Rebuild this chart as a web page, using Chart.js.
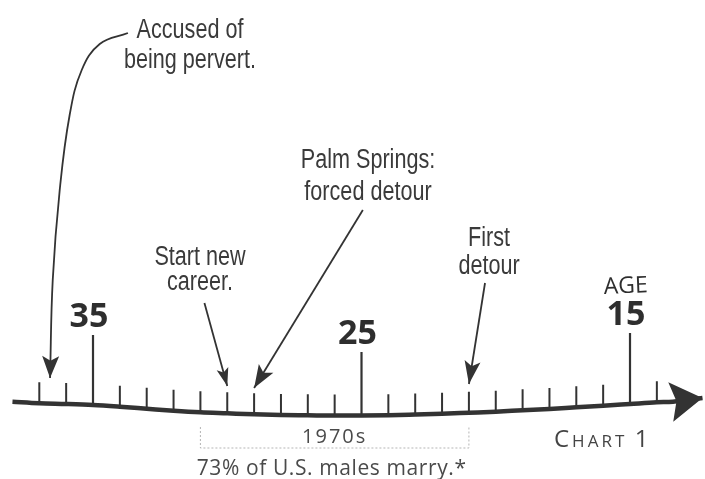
<!DOCTYPE html>
<html>
<head>
<meta charset="utf-8">
<script src="https://cdn.jsdelivr.net/npm/chart.js@4.4.1/dist/chart.umd.min.js"></script>
<style>
  html, body { margin: 0; padding: 0; background: #fff; }
  #caixa { width: 705px; height: 479px; }
</style>
</head>
<body>
<div id="caixa"><canvas id="graficoIdade"></canvas></div>
<script>
// linha do tempo (idade -> altura da linha)
const idadesLinha = [38, 37, 36, 35, 34, 33, 32, 31, 30, 29, 28, 27, 26, 25, 24, 23, 22, 21, 20, 19, 18, 17, 16, 15, 14, 13.4, 12.3];
const alturasLinha = [14.3, 12.7, 12, 11, 9.3, 7.3, 5.3, 3.7, 2.7, 1.7, 1, 0.7, 0.4, 0.5, 0.8, 1.5, 2.3, 3.3, 4.3, 5.7, 7, 8.7, 10.3, 12, 13.7, 14.3, 18];

// marcas grandes
const idadesMarcadas = [35, 25, 15];
const rotulosMarcados = ['35', '25', '15'];
const topoMarcadas = [81, 64, 83];

// eventos apontados pelas setas
const eventos = [['Accused of', 'being pervert.'], ['Start new', 'career.'], ['Palm Springs:', 'forced detour'], ['First', 'detour']];
const idadesEventos = [36.6, 30, 29, 21];

// faixa da década
const rotuloDecada = '1970s';
const idadesDecada = [31, 21];
const notaDecada = '73% of U.S. males marry.*';

const corTraco = '#333';
const corTexto = '#3a3a3a';

// trajetos das setas (layout, em unidades do gráfico)
const trajetos = [
  { pontos: [[33.7, 383], [34.75, 372], [35.42, 346], [35.87, 301], [36.24, 226], [36.5, 136]], ponta: 38, tensao: 0.4, comp: 22, larg: 17 },
  { pontos: [[30.85, 113]], ponta: 30, tensao: 0, comp: 18, larg: 12 },
  { pontos: [[24.95, 206]], ponta: 28, tensao: 0, comp: 23, larg: 17 },
  { pontos: [[20.4, 133]], ponta: 32, tensao: 0, comp: 23, larg: 16 }
];

function alturaEm(idade) {
  return alturasLinha[idadesLinha.indexOf(idade)];
}

// marcas pequenas: cada idade inteira que não é marca grande
const marcasPequenas = [];
idadesLinha.forEach(idade => {
  if (Number.isInteger(idade) && idade < 38 && !idadesMarcadas.includes(idade)) {
    const base = alturaEm(idade);
    marcasPequenas.push({ x: idade, y: base }, { x: idade, y: base + 21 }, { x: idade, y: null });
  }
});

const marcasGrandes = [];
idadesMarcadas.forEach((idade, i) => {
  marcasGrandes.push({ x: idade, y: alturaEm(idade) }, { x: idade, y: topoMarcadas[i] }, { x: idade, y: null });
});

const datasets = [
  {
    label: 'linha',
    data: idadesLinha.map((x, i) => ({ x, y: alturasLinha[i] })),
    borderColor: corTraco, borderWidth: 4.5, cubicInterpolationMode: 'monotone',
    seta: { comp: 32, larg: 40, entalhe: 0.82 }
  },
  {
    label: 'marcas',
    data: marcasPequenas,
    borderColor: corTraco, borderWidth: 2, spanGaps: false, borderCapStyle: 'butt'
  },
  {
    label: 'marcasGrandes',
    data: marcasGrandes,
    borderColor: corTraco, borderWidth: 2.2, spanGaps: false, borderCapStyle: 'butt'
  },
  {
    label: 'decada',
    data: [
      { x: idadesDecada[0], y: -11 }, { x: idadesDecada[0], y: -32 },
      { x: idadesDecada[1], y: -32 }, { x: idadesDecada[1], y: -11 }
    ],
    borderColor: '#b5b5b5', borderWidth: 1, borderDash: [2, 2]
  }
];

trajetos.forEach((t, i) => {
  datasets.push({
    label: eventos[i].join(' '),
    data: t.pontos.map(p => ({ x: p[0], y: p[1] })).concat([{ x: idadesEventos[i], y: t.ponta }]),
    borderColor: corTraco, borderWidth: 1.8, tension: t.tensao,
    seta: { comp: t.comp, larg: t.larg, entalhe: 0.78 }
  });
});

function desenharPonta(ctx, x, y, ang, s) {
  ctx.save();
  ctx.translate(x, y);
  ctx.rotate(ang);
  ctx.beginPath();
  ctx.moveTo(0, 0);
  ctx.lineTo(-s.comp, -s.larg / 2);
  ctx.lineTo(-s.comp * s.entalhe, 0);
  ctx.lineTo(-s.comp, s.larg / 2);
  ctx.closePath();
  ctx.fillStyle = corTraco;
  ctx.fill();
  ctx.restore();
}

const pluginSetas = {
  id: 'setas',
  afterDatasetsDraw(chart) {
    const ctx = chart.ctx;
    chart.data.datasets.forEach((ds, i) => {
      if (!ds.seta) return;
      const pts = chart.getDatasetMeta(i).data;
      const a = pts[pts.length - 2], b = pts[pts.length - 1];
      const ang = Math.atan2(b.y - a.y, b.x - a.x);
      desenharPonta(ctx, b.x, b.y, ang, ds.seta);
    });
  }
};

// posições dos textos (centro x, linha de base y, passo entre linhas)
const posEventos = [[190, 38, 30], [200, 265, 25], [368, 168, 32], [489, 246, 28]];

const pluginTextos = {
  id: 'textos',
  afterDraw(chart) {
    const ctx = chart.ctx;
    const sx = chart.scales.x, sy = chart.scales.y;
    ctx.save();
    ctx.textAlign = 'center';
    ctx.textBaseline = 'alphabetic';

    // eventos, em fonte estreita
    ctx.fillStyle = corTexto;
    ctx.font = '27px "Liberation Sans", Arial, sans-serif';
    eventos.forEach((linhas, i) => {
      const [cx, by, passo] = posEventos[i];
      linhas.forEach((l, j) => {
        ctx.save();
        ctx.translate(cx, by + j * passo);
        ctx.scale(0.8, 1);
        ctx.fillText(l, 0, 0);
        ctx.restore();
      });
    });

    // números das idades
    ctx.fillStyle = '#2e2e2e';
    ctx.font = 'bold 34px "Open Sans", "Noto Sans", sans-serif';
    idadesMarcadas.forEach((idade, i) => {
      ctx.fillText(rotulosMarcados[i], sx.getPixelForValue(idade) - 4, sy.getPixelForValue(topoMarcadas[i]) - 8);
    });

    // AGE
    ctx.save();
    ctx.font = '23px "Open Sans", "Noto Sans", sans-serif';
    ctx.translate(sx.getPixelForValue(15) - 4, 293);
    ctx.rotate(-0.04);
    ctx.fillText('AGE', 0, 0);
    ctx.restore();

    // década
    ctx.fillStyle = '#4a4a4a';
    ctx.font = '20px "Open Sans", "Noto Sans", sans-serif';
    ctx.letterSpacing = '2px';
    const meio = (sx.getPixelForValue(idadesDecada[0]) + sx.getPixelForValue(idadesDecada[1])) / 2;
    ctx.fillText(rotuloDecada, meio, sy.getPixelForValue(-27));
    ctx.letterSpacing = '0.6px';
    ctx.font = '21px "Open Sans", "Noto Sans", sans-serif';
    ctx.fillText(notaDecada, meio - 3, 475);

    // CHART 1 em versalete
    ctx.textAlign = 'left';
    ctx.fillStyle = '#444';
    let x = 554;
    const partes = [['C', 24], ['HART', 17], [' ', 17], ['1', 24]];
    partes.forEach(([t, tam]) => {
      ctx.font = tam + 'px "Open Sans", "Noto Sans", sans-serif';
      ctx.letterSpacing = '3px';
      ctx.fillText(t, x, 447);
      x += ctx.measureText(t).width;
    });
    ctx.restore();
  }
};

new Chart(document.getElementById('graficoIdade'), {
  type: 'line',
  data: { datasets },
  options: {
    responsive: true,
    maintainAspectRatio: false,
    animation: false,
    layout: { padding: 0 },
    scales: {
      x: { type: 'linear', reverse: true, min: 12.207, max: 38.464, display: false },
      y: { type: 'linear', min: -63, max: 416, display: false }
    },
    elements: { point: { radius: 0, hoverRadius: 0 } },
    plugins: { legend: { display: false }, tooltip: { enabled: false } }
  },
  plugins: [pluginSetas, pluginTextos]
});
</script>
</body>
</html>
